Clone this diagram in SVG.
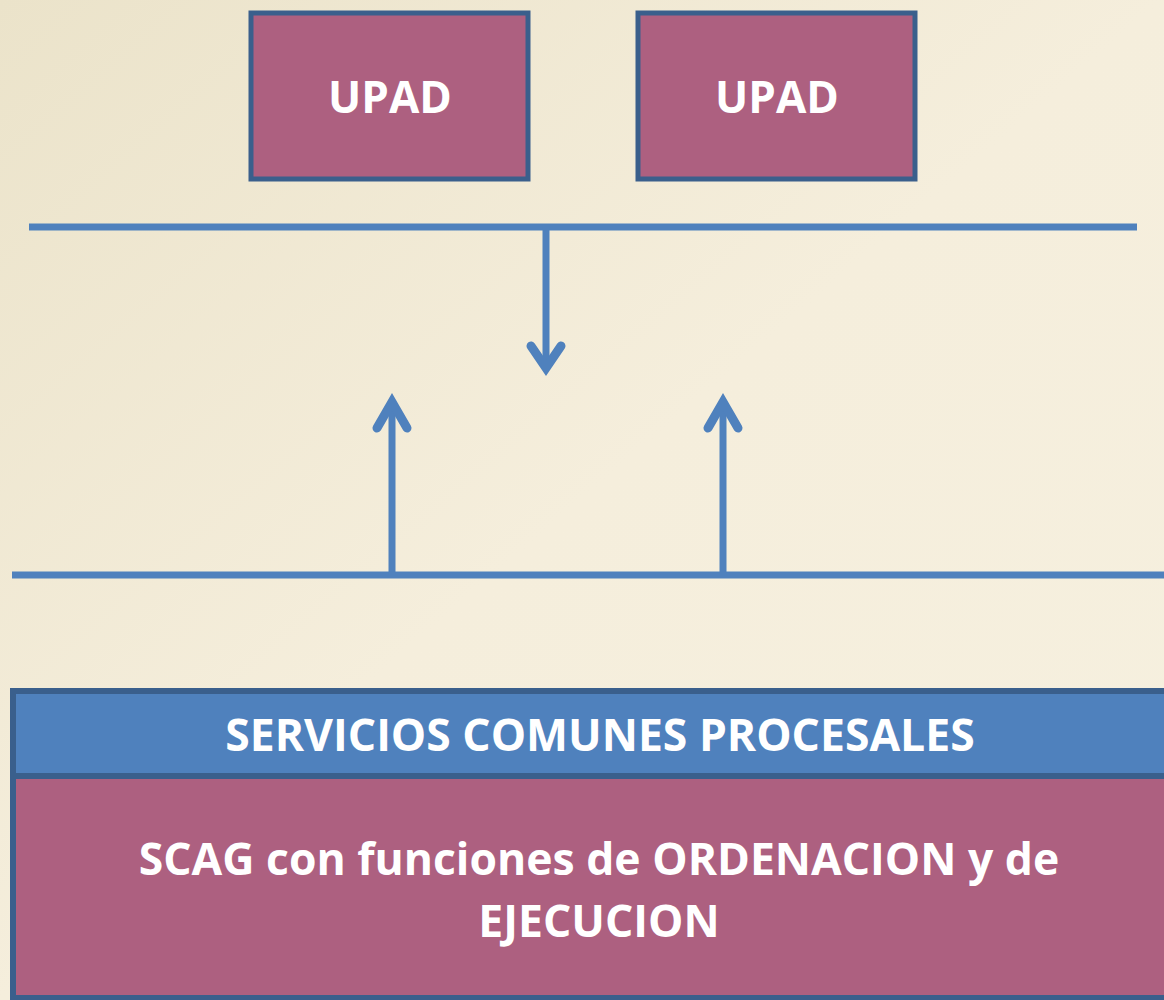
<svg xmlns="http://www.w3.org/2000/svg" width="1164" height="1000" viewBox="0 0 1164 1000">
<defs>
<linearGradient id="bg" x1="0" y1="0" x2="1" y2="1">
<stop offset="0" stop-color="#ebe3ca"/>
<stop offset="0.5" stop-color="#f5eedc"/>
<stop offset="1" stop-color="#f6f0df"/>
</linearGradient>
<style>
.box{fill:#ad6080;stroke:#3a5f8c;stroke-width:5}
.t{font-family:"Open Sans","Liberation Sans",sans-serif;font-weight:bold;fill:#ffffff;text-anchor:middle}
.ln{stroke:#4f81bd;stroke-width:7;fill:none}
.ah{stroke:#4f81bd;stroke-width:9;fill:none;stroke-linecap:round;stroke-linejoin:miter}
</style>
</defs>
<rect width="1164" height="1000" fill="url(#bg)"/>
<g id="upad1">
<rect class="box" x="251" y="13" width="277" height="166"/>
<text class="t" x="390" y="113" font-size="44">UPAD</text>
</g>
<g id="upad2">
<rect class="box" x="638" y="13" width="277" height="166"/>
<text class="t" x="777" y="113" font-size="44">UPAD</text>
</g>
<g id="connectors">
<line class="ln" x1="29" y1="227" x2="1137" y2="227"/>
<line class="ln" x1="12" y1="575" x2="1164" y2="575"/>
<line class="ln" x1="546" y1="227" x2="546" y2="360"/>
<polyline class="ah" points="531,346 546,368 561,346"/>
<line class="ln" x1="392" y1="575" x2="392" y2="404"/>
<polyline class="ah" points="377,428 392,402 407,428"/>
<line class="ln" x1="723" y1="575" x2="723" y2="404"/>
<polyline class="ah" points="708,428 723,402 738,428"/>
</g>
<g id="servicios">
<rect x="13" y="691" width="1160" height="85" fill="#4f81bd" stroke="#3a5f8c" stroke-width="6"/>
<text class="t" x="600" y="751" font-size="44.5">SERVICIOS COMUNES PROCESALES</text>
</g>
<g id="scag">
<rect x="13" y="776" width="1160" height="222" fill="#ad6080" stroke="#3a5f8c" stroke-width="6"/>
<text class="t" x="599" y="875" font-size="44.5">SCAG con funciones de ORDENACION y de</text>
<text class="t" x="599" y="937" font-size="44.5">EJECUCION</text>
</g>
</svg>
